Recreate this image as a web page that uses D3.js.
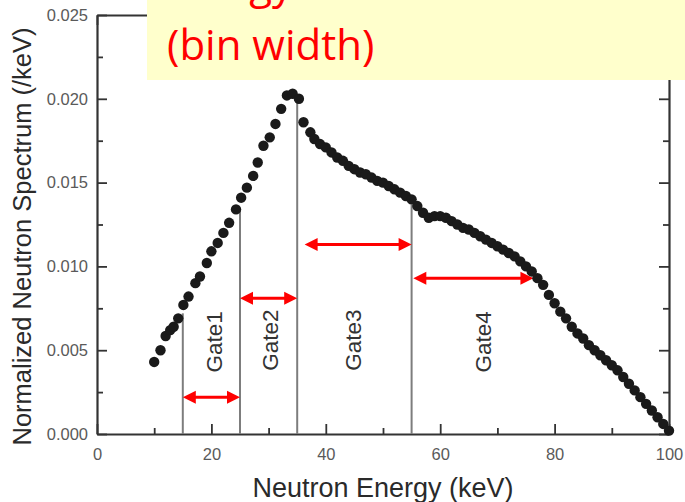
<!DOCTYPE html>
<html><head><meta charset="utf-8">
<script src="https://cdn.jsdelivr.net/npm/d3@7"></script>
<style>
html,body{margin:0;padding:0;background:#fff;}
svg{display:block;}
</style></head>
<body>
<script>
// ---- data ----
const energy = [10.0,11.1,12.0,12.8,13.4,14.2,15.1,16.0,17.2,18.0,19.2,20.0,21.1,22.1,23.1,24.3,25.2,26.2,27.3,28.1,29.1,30.2,31.2,32.2,33.2,34.2,35.3,36.1,37.3,
  38,39,40,41,42,43,44,45,46,47,48,49,50,51,52,53,54,55,56,57,58,59,60,61,62,63,64,65,66,67,68,69,70,
  71,72,73,74,75,76,77,78,79,80,81,82,83,84,85,86,87,88,89,90,91,92,93,94,95,96,97,98,99,100];
const spectrum = [0.0043,0.0050,0.00585,0.0062,0.0064,0.0069,0.0077,0.0082,0.0090,0.0094,0.0102,0.0109,0.0114,0.0120,0.0126,0.0134,0.0141,0.0147,0.0154,0.0162,0.0172,0.0177,0.0185,0.0194,0.0202,0.0203,0.0200,0.0186,0.0180,
  0.0176,0.0173,0.0171,0.0168,0.0165,0.0163,0.0160,0.0158,0.0156,0.0155,0.0153,0.0151,0.0150,0.0148,0.0146,0.0144,0.0142,0.0140,0.0136,0.0132,0.0129,0.0130,0.0130,0.0129,0.0127,0.0125,0.0123,0.0122,0.0120,0.0118,0.0116,0.0114,0.0112,
  0.0110,0.0108,0.0106,0.0103,0.0100,0.0097,0.0093,0.0089,0.0083,0.0078,0.0073,0.0069,0.0064,0.0060,0.0057,0.0053,0.0050,0.0047,0.0044,0.0041,0.0038,0.0034,0.0030,0.0026,0.0022,0.0018,0.0014,0.0010,0.0006,0.0002];

const gateEdges = [15, 25, 35, 55];
const gateEdgeTops = [0.0072, 0.0134, 0.0200, 0.0137];

const gateNames = ["Gate1","Gate2","Gate3","Gate4"];
const gateLabelX = [20.5, 30.3, 44.8, 67.5];
const gateLabelY = [0.0055, 0.0056, 0.0056, 0.0055];

const arrowFrom = [15, 25, 36.3, 55.3];
const arrowTo   = [25, 35, 55, 76.3];
const arrowY    = [0.0022, 0.0081, 0.0113, 0.0093];

const xMajorTicks = [0,20,40,60,80,100];
const xMinorTicks = [10,30,50,70,90];
const yMajorTicks = [0,0.005,0.010,0.015,0.020,0.025];
const yMinorTicks = [0.0025,0.0075,0.0125,0.0175,0.0225];

const xTitle = "Neutron Energy (keV)";
const yTitle = "Normalized Neutron Spectrum (/keV)";
const noteLines = ["Energy", "(bin width)"];

// ---- layout ----
const W = 685, H = 502;
const m = {left:97, top:15, right:16, bottom:68};
const iw = W - m.left - m.right, ih = H - m.top - m.bottom;

const svg = d3.select("body").append("svg").attr("width", W).attr("height", H);
const g = svg.append("g").attr("transform", `translate(${m.left},${m.top})`);

const x = d3.scaleLinear().domain([0,100]).range([0, iw]);
const y = d3.scaleLinear().domain([0,0.025]).range([ih, 0]);

const axisColor = "#333";
const labelFont = "'Liberation Sans', Arial, sans-serif";

function styleAxis(sel){
  sel.selectAll("path.domain").attr("stroke", axisColor).attr("stroke-width", 2.2);
  sel.selectAll(".tick line").attr("stroke", axisColor).attr("stroke-width", 1.8);
  sel.selectAll(".tick text").attr("fill", "#5a5a5a").attr("font-family", labelFont).attr("font-size", 16.5);
}

// left axis
g.append("g").call(d3.axisLeft(y).tickValues(yMajorTicks).tickFormat(d3.format(".3f")).tickSizeInner(-10).tickSizeOuter(0).tickPadding(9)).call(styleAxis);
g.append("g").call(d3.axisLeft(y).tickValues(yMinorTicks).tickFormat("").tickSizeInner(-6).tickSizeOuter(0)).call(styleAxis).select("path.domain").remove();
// right axis
g.append("g").attr("transform", `translate(${iw},0)`).call(d3.axisRight(y).tickValues(yMajorTicks).tickFormat("").tickSizeInner(-10).tickSizeOuter(0)).call(styleAxis);
g.append("g").attr("transform", `translate(${iw},0)`).call(d3.axisRight(y).tickValues(yMinorTicks).tickFormat("").tickSizeInner(-6).tickSizeOuter(0)).call(styleAxis).select("path.domain").remove();
// bottom axis
g.append("g").attr("transform", `translate(0,${ih})`).call(d3.axisBottom(x).tickValues(xMajorTicks).tickFormat(d3.format("d")).tickSizeInner(-10).tickSizeOuter(0).tickPadding(14)).call(styleAxis);
g.append("g").attr("transform", `translate(0,${ih})`).call(d3.axisBottom(x).tickValues(xMinorTicks).tickFormat("").tickSizeInner(-6).tickSizeOuter(0)).call(styleAxis).select("path.domain").remove();
// top axis
g.append("g").call(d3.axisTop(x).tickValues(xMajorTicks).tickFormat("").tickSizeInner(-10).tickSizeOuter(0)).call(styleAxis);
g.append("g").call(d3.axisTop(x).tickValues(xMinorTicks).tickFormat("").tickSizeInner(-6).tickSizeOuter(0)).call(styleAxis).select("path.domain").remove();

// gate edge lines
g.selectAll("line.gate").data(gateEdges).join("line").attr("class","gate")
  .attr("x1", d => x(d)).attr("x2", d => x(d))
  .attr("y1", y(0)).attr("y2", (d,i) => y(gateEdgeTops[i]))
  .attr("stroke", "#7d7d7d").attr("stroke-width", 2);

// gate labels
g.selectAll("text.gl").data(gateNames).join("text").attr("class","gl")
  .attr("transform", (d,i) => `translate(${x(gateLabelX[i])},${y(gateLabelY[i])}) rotate(-90)`)
  .attr("text-anchor","middle").attr("dominant-baseline","central")
  .attr("font-family", labelFont).attr("font-size", 22.5).attr("fill", "#333")
  .text(d => d);

// red double arrows
const red = "#ff0000";
const ah = 13, aw = 6.5;
arrowFrom.forEach((a, i) => {
  const x1 = x(a), x2 = x(arrowTo[i]), yy = y(arrowY[i]);
  g.append("line").attr("x1", x1 + ah - 1).attr("x2", x2 - ah + 1).attr("y1", yy).attr("y2", yy)
    .attr("stroke", red).attr("stroke-width", 3);
  g.append("path").attr("d", `M${x1},${yy} L${x1+ah},${yy-aw} L${x1+ah},${yy+aw} Z`).attr("fill", red);
  g.append("path").attr("d", `M${x2},${yy} L${x2-ah},${yy-aw} L${x2-ah},${yy+aw} Z`).attr("fill", red);
});

// data points
g.selectAll("circle.pt").data(energy).join("circle").attr("class","pt")
  .attr("cx", d => x(d)).attr("cy", (d,i) => y(spectrum[i]))
  .attr("r", 5.2).attr("fill", "#1a1a1a");

// axis titles
svg.append("text").attr("x", m.left + x(50)).attr("y", 497)
  .attr("text-anchor","middle").attr("font-family", labelFont).attr("font-size", 27).attr("fill","#2a2a2a")
  .text(xTitle);
svg.append("text").attr("transform", `translate(31,${m.top + ih/2 + 12}) rotate(-90)`)
  .attr("text-anchor","middle").attr("font-family", labelFont).attr("font-size", 25.5).attr("fill","#2a2a2a")
  .text(yTitle);

// yellow note box
svg.append("rect").attr("x", 147).attr("y", 0).attr("width", W - 147).attr("height", 80).attr("fill", "#ffffcc");
svg.append("text").attr("x", 293).attr("y", -1).attr("text-anchor","end")
  .attr("font-family", "'Open Sans', 'Noto Sans', sans-serif").attr("font-size", 42).attr("fill", red).text(noteLines[0]);
svg.append("text").attr("x", 167).attr("y", 60)
  .attr("font-family", "'Open Sans', 'Noto Sans', sans-serif").attr("font-size", 42).attr("fill", red).text(noteLines[1]);
</script>
</body></html>
